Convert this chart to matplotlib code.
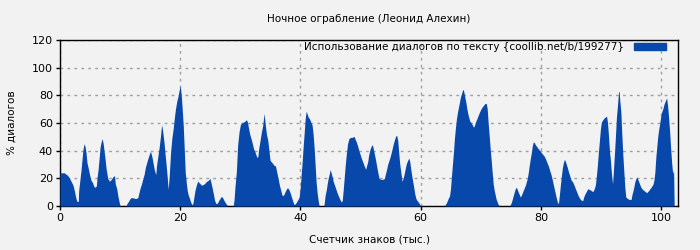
import matplotlib
matplotlib.use("Agg")
import matplotlib.pyplot as plt
import matplotlib.patches as mpatches

# Character counter (thousands) and share of dialogue (%)
kchars = [
    0, 0.7, 1.0, 1.3, 1.6, 1.94, 2.17, 2.39, 2.6, 2.8, 3.05, 3.1, 3.3, 3.5, 3.67, 3.83,
    4.0, 4.17, 4.33, 4.5, 4.72, 4.9, 5.17, 5.4, 5.6, 5.8, 6.05, 6.17, 6.33, 6.5, 6.67, 6.83,
    7.0, 7.17, 7.33, 7.5, 7.67, 7.94, 8.2, 8.5, 8.78, 9.06, 9.2, 9.44, 9.6, 9.78, 9.94, 10.1,
    11.0, 11.1, 11.4, 11.6, 11.8, 12.1, 12.4, 12.7, 12.94, 13.1, 13.3, 13.56, 13.8, 14.0, 14.2, 14.4,
    14.67, 14.9, 15.05, 15.3, 15.5, 15.7, 15.94, 16.05, 16.3, 16.5, 16.7, 16.9,
    17.05, 17.3, 17.5, 17.67, 17.83, 18.0, 18.17, 18.4, 18.6, 18.83, 19.0, 19.2, 19.44, 19.67, 19.83, 20.0,
    20.17, 20.33, 20.5, 20.67, 20.83, 21.0, 21.17, 21.33, 21.5, 21.72, 21.94, 22.1, 22.28, 22.44, 22.67, 22.9,
    23.1, 23.33, 23.55, 23.78, 24.0, 24.2, 24.44, 24.67, 24.94, 25.1, 25.28, 25.5, 25.72, 25.94, 26.17, 26.4,
    26.6, 26.83, 27.05, 27.28, 27.5, 27.72, 27.9, 28.8, 28.94, 29.1, 29.33, 29.55, 29.78, 30.0, 30.28, 30.55,
    30.78, 31.0, 31.17, 31.33, 31.55, 31.78, 32.0, 32.2, 32.44, 32.72, 32.9, 33.05, 33.28, 33.5, 33.72,
    33.94, 34.17, 34.33, 34.56, 34.72, 34.94, 35.17, 35.4, 35.6, 35.83, 36.05, 36.28, 36.5, 36.72, 36.94, 37.17,
    37.4, 37.6, 37.83, 38.05, 38.28, 38.5, 38.72, 38.94, 39.17, 39.4, 39.6, 39.78, 39.94, 40.1, 40.28, 40.44,
    40.6, 40.78, 40.94, 41.1, 41.28, 41.5, 41.72, 41.94, 42.1, 42.28, 42.44, 42.6, 42.78, 42.94, 43.1, 43.85,
    43.94, 44.1, 44.28, 44.44, 44.6, 44.78, 44.94, 45.1, 45.28, 45.44, 45.67, 45.9, 46.1, 46.33, 46.55, 46.78,
    46.94, 47.1, 47.28, 47.44, 47.6, 47.83, 48.05, 48.33, 48.6, 48.9, 49.05, 49.28, 49.5, 49.72, 49.94, 50.17,
    50.4, 50.6, 50.83,
    51.17, 51.33, 51.56, 51.78, 51.94, 52.05, 52.28, 52.5, 52.72, 52.9, 53.05, 53.28, 53.5, 53.72, 53.94, 54.1,
    54.28, 54.5, 54.72, 54.94, 55.17, 55.4, 55.6, 55.83, 56.0, 56.17, 56.33, 56.5, 56.72, 56.9, 57.05, 57.22,
    57.4, 57.6, 57.83, 58.0, 58.17, 58.33, 58.5, 58.67, 58.83, 59.0, 59.17, 59.33, 59.5, 59.67, 59.83, 60.0,
    64.0, 64.1, 64.28, 64.44, 64.6, 64.78, 64.94, 65.1, 65.28, 65.44, 65.6, 65.78, 65.94, 66.1, 66.28, 66.44,
    66.6, 66.78, 66.94, 67.05, 67.17, 67.33, 67.5,
    67.72, 67.9, 68.05, 68.2, 68.4, 68.55, 68.78, 68.94, 69.1, 69.33, 69.55, 69.78, 70.0, 70.22, 70.44, 70.67,
    70.9, 71.05, 71.22, 71.4, 71.55, 71.72, 71.9, 72.05, 72.22, 72.4, 72.55, 72.72, 72.9, 73.05, 74.8, 74.9,
    75.05, 75.22, 75.4, 75.55, 75.72, 75.9, 76.05, 76.22, 76.4, 76.55, 76.72, 76.9, 77.05, 77.22, 77.4, 77.55,
    77.72, 77.9, 78.05, 78.22, 78.4, 78.55, 78.72, 78.9, 79.05, 79.22, 79.44, 79.67, 79.9, 80.1, 80.33, 80.55,
    80.78, 81.0, 81.22, 81.44, 81.67, 81.9, 82.1, 82.33, 82.55, 82.72, 82.9, 83.05, 83.22, 83.4, 83.55, 83.72,
    83.9, 84.05, 84.22, 84.4, 84.55, 84.72, 84.9, 85.05,
    85.22, 85.4, 85.55, 85.72, 85.9, 86.05, 86.22, 86.4, 86.55, 86.78, 86.94, 87.1, 87.33, 87.55, 87.78, 88.0,
    88.22, 88.44, 88.67, 88.9, 89.05, 89.22, 89.4, 89.55, 89.72, 89.9, 90.05, 90.22, 90.4, 90.55, 90.72, 90.9,
    91.05, 91.22, 91.4, 91.55, 91.72, 91.9, 92.05, 92.22, 92.4, 92.55, 92.72, 92.9, 93.0, 93.1, 93.28, 93.44,
    93.6, 93.78, 93.94, 94.1, 94.28, 94.44, 94.6, 94.83, 95.0, 95.1, 95.28, 95.44, 95.6, 95.78, 95.94, 96.1,
    96.28, 96.44, 96.6, 96.78, 96.94, 97.1, 97.28, 97.44, 97.6, 97.78, 97.94, 98.1, 98.28, 98.44, 98.6, 98.78,
    98.94, 99.1, 99.28, 99.44, 99.6, 99.78, 99.94, 100.1, 100.28, 100.44, 100.6, 100.78, 100.9, 101.05, 101.22, 101.4,
    101.55, 101.72, 101.9, 102.05, 102.15,
]
dialog_pct = [
    24, 24, 23, 22, 20, 17, 15, 11, 6.5, 3.4, 3.4, 10.6, 18.5, 26, 34, 41,
    45, 43, 38.5, 31, 27, 23, 18.5, 17, 14.5, 13.5, 14.5, 21, 26, 34, 42.6, 46,
    48.7, 45.5, 40, 34, 27, 20, 18, 19, 21, 22, 16, 12.5, 8, 4, 1, 0,
    0, 1.5, 3.4, 5, 6, 6, 5.5, 5.5, 6, 9, 12.5, 16, 20, 23, 28, 31,
    35, 38, 39.5, 35.4, 30.6, 26, 22.7, 29, 36.6, 42.6, 50, 58.8,
    55, 46, 36.6, 29, 21, 12, 22, 39, 48.7, 56, 63, 70, 76, 80, 84, 87,
    80, 70, 58, 41, 24.6, 17, 11, 8, 6, 3, 1, 1.7, 6.5, 11, 15, 18,
    17, 16, 15, 15.5, 16, 17, 18, 18.5, 20, 17, 13.7, 9, 4, 1.7, 2, 4,
    5.3, 7, 6, 4, 2.4, 1, 0, 0, 4, 13.7, 24.6, 44, 53.5, 58.8, 60.2, 60.7,
    61.4, 62.4, 60.7, 57, 52, 48.7, 45, 41.4, 39, 35.4, 35.4, 41.4, 47.5, 53.5, 58.3,
    67, 58, 52, 47.5, 41.4, 33, 31.8, 30.6, 29.4, 29, 24.6, 19.8, 15, 11.3, 7.7, 7.7,
    10, 11.8, 13.3, 12, 9.6, 6.5, 3.4, 1, 1.7, 3.4, 4.8, 6.5, 12.5, 22, 31.8, 42.6,
    52, 63, 68.4, 66.7, 64.3, 63, 60.7, 58.3, 52, 41.4, 29.4, 17.3, 9, 4, 0, 0,
    1.7, 7.7, 11.3, 16, 20, 23, 26.3, 24, 21, 17.8, 15, 12, 9.4, 7, 4.8, 2.9,
    3.9, 11.3, 21, 29.4, 36.6, 45, 48.7, 49.6, 49.6, 50.4, 48.7, 46.3, 43.4, 40, 37, 34,
    31.3, 29, 26.5,
    31.8, 36.6, 41, 43.4, 44.3, 42.6, 37.8, 33, 27.5, 23.4, 20.2, 19.3, 19.3, 19.3, 19.8, 22.7,
    25.8, 30, 33, 36, 40, 44.3, 47.5, 50.6, 51, 47.5, 39, 30.6, 23.4, 17.8, 19.8, 22.7,
    26.5, 30.6, 33, 34.7, 32.3, 27, 22, 17.8, 13.7, 8.9, 5.8, 4.3, 3.4, 2.4, 1.2, 0,
    0, 1.2, 2.4, 4, 5.8, 7.2, 12, 21, 30.6, 39, 48.7, 57, 63, 67.5, 71.6, 75,
    78.8, 81.2, 83.6, 84.3, 82.4, 78.8, 75,
    69, 65.5, 63, 61, 60.2, 58.8, 57, 58.3, 60.7, 63, 65.5, 68, 70, 71.6, 72.8, 74,
    74.2, 70.4, 59.5, 50, 41.4, 33, 23.4, 16, 11.3, 7.7, 4.8, 2.9, 1, 0, 0, 1,
    2.4, 4.8, 7.7, 10, 12.5, 13.5, 12, 10, 8.2, 6.5, 7.7, 9.6, 11.3, 13, 15, 17.3,
    19.8, 24.6, 29.4, 34.2, 38.6, 43.4, 46.3, 45.8, 44.3, 43.4, 42, 40.7, 39.5, 38.3, 37.1, 35.9,
    33.7, 31.3, 29, 25.8, 22.7, 18.5, 14.5, 10, 5.8, 2.9, 1.7, 7.7, 15, 22, 27.5, 31.3,
    33.7, 32.3, 30, 27.5, 25, 22.7, 20.2, 18.3,
    17.8, 16, 14.5, 12.5, 10.6, 8.9, 7.2, 5.8, 4.8, 4, 3.9, 6.5, 8.9, 10.6, 12.5, 12,
    11.6, 10.8, 10.6, 13, 15.4, 22, 30.6, 39, 47.5, 56.4, 60.7, 62, 63, 63.9, 64.3, 65,
    60.7, 51, 39, 33, 23.4, 16, 25.8, 37.8, 52, 64.3, 72.8, 82.4, 83, 76.4, 68, 52,
    37.8, 24.6, 13.7, 6.5, 5.8, 5.3, 4.8, 4.8, 4.8, 7.7, 10.6, 13.7, 17.3, 19.8, 21, 19.3,
    17.3, 15.4, 13.7, 12.5, 11.8, 11.3, 10.6, 10.1, 9.6, 10.6, 11.3, 12.5, 13.3, 14.5, 15.4, 18.5,
    24.6, 35.4, 43.9, 51, 56, 60.7, 65.5, 68.4, 70.4, 73.3, 75.2, 77.1, 78, 72.8, 64.3, 53.5,
    42.6, 31.8, 23.4, 26, 0,
]

x_ticks = [0, 20, 40, 60, 80, 100]
y_ticks = [0, 20, 40, 60, 80, 100, 120]

BG = "#f2f2f2"
FILL = "#0848aa"

plt.rcParams["font.family"] = "DejaVu Sans"
plt.rcParams["font.size"] = 7.5

fig = plt.figure(figsize=(7, 2.5), dpi=100, facecolor=BG)
ax = fig.add_axes([0.0857, 0.176, 0.883, 0.664], facecolor=BG)

ax.fill_between(kchars, dialog_pct, 0, color=FILL, linewidth=0, zorder=3)

ax.set_xlim(0, 102.8)
ax.set_ylim(0, 120)
ax.set_xticks(x_ticks)
ax.set_yticks(y_ticks)
ax.tick_params(direction="out", length=3, width=1, colors="black", labelsize=8, pad=2)
ax.grid(True, color="#a0a0a0", linestyle=(0, (2, 3)), linewidth=1, zorder=1)
for side in ax.spines.values():
    side.set_color("black")
    side.set_linewidth(1)

ax.set_title("Ночное ограбление (Леонид Алехин)", fontsize=7.5, pad=13)
ax.set_xlabel("Счетчик знаков (тыс.)", fontsize=7.5, labelpad=8)
ax.set_ylabel("% диалогов", fontsize=7.5, labelpad=11)

handle = mpatches.Patch(color=FILL, label="Использование диалогов по тексту {coollib.net/b/199277}")
ax.legend(handles=[handle], loc="upper right", bbox_to_anchor=(0.99, 1.025),
          frameon=False, markerfirst=False, fontsize=7.5, handlelength=3.0,
          handleheight=0.75, borderaxespad=0.2, handletextpad=1.0)

fig.savefig("out.png", dpi=100, facecolor=BG)
